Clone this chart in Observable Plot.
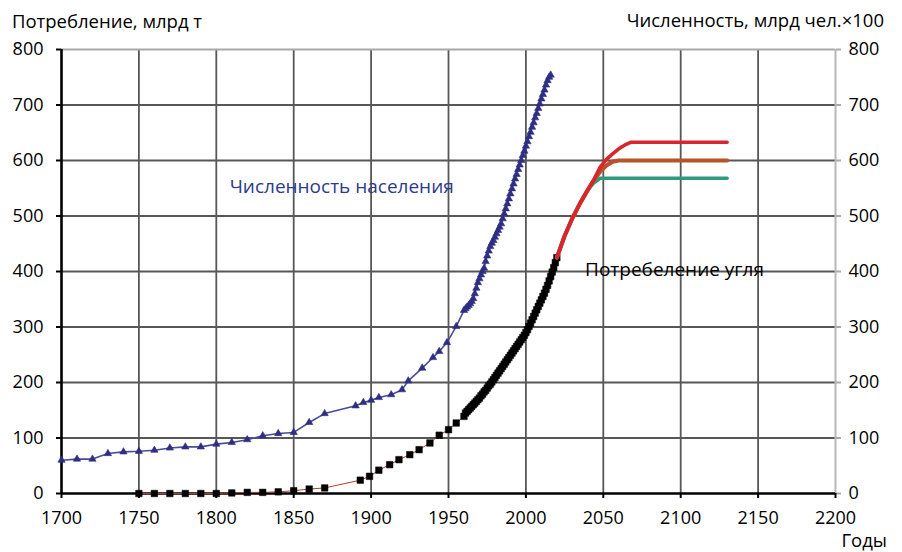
<!DOCTYPE html>
<html>
<head>
<meta charset="utf-8">
<script src="https://cdn.jsdelivr.net/npm/d3@7"></script>
<script src="https://cdn.jsdelivr.net/npm/@observablehq/plot@0.6"></script>
<style>
  html, body { margin: 0; padding: 0; background: #fff; }
  svg { display: block; }
</style>
</head>
<body>
<script>
// ---- Data ----
const xTicks = [1700, 1750, 1800, 1850, 1900, 1950, 2000, 2050, 2100, 2150, 2200];
const yTicks = [0, 100, 200, 300, 400, 500, 600, 700, 800];

// Population (billion people x100)
const popYears = [1700,1710,1720,1730,1740,1750,1760,1770,1780,1790,1800,1810,1820,1830,1840,1850,1860,1870,1890,1895,1900,1905,1913,1920,1924,1933,1940,1944,1949,1955,
  1960,1961,1962,1963,1964,1965,1966,1967,1968,1969,1970,1971,1972,1973,1974,1975,1976,1977,1978,1979,1980,1981,1982,1983,1984,1985,1986,1987,1988,1989,1990,
  1991,1992,1993,1994,1995,1996,1997,1998,1999,2000,2001,2002,2003,2004,2005,2006,2007,2008,2009,2010,2011,2012,2013,2014,2015,2016];
const popValues = [60,62,62,72,75,76,78,82,84,84,89,92,97,104,108,110,128,144,158,164,168,173,178,187,203,226,245,256,272,301,
  330,333,336,339,342,346,351,360,370,380,387,394,400,406,418,428,437,445,451,456,462,468,474,480,486,495,504,513,522,531,540,
  549,558,567,575,584,592,600,609,617,626,634,643,651,660,668,677,685,694,702,711,719,727,736,744,750,754];

// Cumulative coal consumption (billion tonnes), historical
const coalYears = [1750,1760,1770,1780,1790,1800,1810,1820,1830,1840,1850,1860,1870,1893,1899,1905,1912,1918,1925,1931,1938,1944,1950,1955,1960,
  1961,1962,1963,1964,1965,1966,1967,1968,1969,1970,1971,1972,1973,1974,1975,1976,1977,1978,1979,1980,1981,1982,1983,1984,1985,1986,1987,1988,1989,1990,
  1991,1992,1993,1994,1995,1996,1997,1998,1999,2000,2001,2002,2003,2004,2005,2006,2007,2008,2009,2010,2011,2012,2013,2014,2015,2016,2017,2018,2019,2020];
const coalValues = [0,0,0,0,0,0,1,2,2,3,5,8,10,24,31,42,52,61,70,79,91,105,115,127,139,
  145,148,151,154,157,160,163,166,169,172,176,179,183,186,190,194,197,201,205,209,213,217,221,225,229,233,237,241,245,249,
  253,257,261,265,269,273,277,281,285,290,295,301,307,313,319,325,331,337,343,349,355,361,368,375,383,391,399,407,416,425];

// Projections
const greenYears  = [2020,2025,2030,2035,2040,2044,2048,2130];
const greenValues = [425,464,496,523,547,560,568,568];
const brownYears  = [2020,2025,2030,2035,2040,2044,2048,2052,2056,2060,2130];
const brownValues = [425,464,496,523,547,565,580,591,598,600,600];
const redYears    = [2020,2025,2030,2035,2040,2044,2048,2052,2056,2060,2064,2068,2130];
const redValues   = [425,464,496,523,547,566,588,602,612,621,628,633,633];

const seriesLabels = ["Численность населения", "Потребеление угля"];
const titles = ["Потребление, млрд т", "Численность, млрд чел.×100", "Годы"];

const toRows = (xs, ys) => xs.map((x, i) => ({x, y: ys[i]}));
const pop = toRows(popYears, popValues);
const coal = toRows(coalYears, coalValues);
const green = toRows(greenYears, greenValues);
const brown = toRows(brownYears, brownValues);
const red = toRows(redYears, redValues);

const gridX = xTicks.filter(d => d > 1700 && d < 2200);
const gridY = yTicks.filter(d => d > 0 && d < 800);
const FONT = "Open Sans";

const chart = Plot.plot({
  width: 902,
  height: 552,
  marginLeft: 61,
  marginRight: 67,
  marginTop: 49,
  marginBottom: 59,
  style: {fontFamily: FONT, fontSize: "18px", color: "#000", background: "#fff"},
  x: {domain: [1700, 2200]},
  y: {domain: [0, 800]},
  marks: [
    Plot.gridX(gridX, {stroke: "#575757", strokeOpacity: 1, strokeWidth: 1.8}),
    Plot.gridY(gridY, {stroke: "#575757", strokeOpacity: 1, strokeWidth: 1.8}),
    Plot.ruleY([800], {stroke: "#a8a8a8", strokeWidth: 2}),
    Plot.ruleX([2200], {stroke: "#b8b8b8", strokeWidth: 2}),
    Plot.axisY(yTicks, {anchor: "left", tickSize: 5, tickPadding: 13, stroke: "#000", strokeWidth: 2, fill: "#000", fontSize: 18, label: null}),
    Plot.axisY(yTicks, {anchor: "right", tickSize: 5, tickPadding: 8, stroke: "#aaa", strokeWidth: 2, fill: "#000", fontSize: 18, label: null}),
    Plot.axisX(xTicks, {anchor: "bottom", tickSize: 5, tickPadding: 13, stroke: "#000", strokeWidth: 2, fill: "#000", fontSize: 18, label: null, tickFormat: d => String(d)}),
    Plot.ruleX([1700], {stroke: "#000", strokeWidth: 2.6}),
    Plot.ruleY([0], {stroke: "#000", strokeWidth: 2.6}),
    // population
    Plot.line(pop, {x: "x", y: "y", stroke: "#4b4a96", strokeWidth: 1.6}),
    Plot.dot(pop, {x: "x", y: "y", symbol: "triangle", r: 2.7, fill: "#2f2e82", stroke: "#2f2e82", strokeWidth: 0.6}),
    // coal history
    Plot.line(coal, {x: "x", y: "y", stroke: "#a5442c", strokeWidth: 1}),
    Plot.dot(coal, {x: "x", y: "y", symbol: "square", r: 3.7, fill: "#000", stroke: "#000", strokeWidth: 0.5}),
    // projections
    Plot.line(green, {x: "x", y: "y", stroke: "#2e9b7e", strokeWidth: 3.6}),
    Plot.line(brown, {x: "x", y: "y", stroke: "#b5532b", strokeWidth: 4.2}),
    Plot.line(red, {x: "x", y: "y", stroke: "#d8262e", strokeWidth: 3.6}),
    // series labels
    Plot.text([seriesLabels[0]], {x: () => 1881, y: () => 553, text: d => d, fill: "#2c3b8c", fontSize: 19, textAnchor: "middle"}),
    Plot.text([seriesLabels[1]], {x: () => 2096, y: () => 403, text: d => d, fill: "#000", fontSize: 19, textAnchor: "middle"})
  ]
});

document.body.appendChild(chart);
const svg = d3.select(chart);

// white boxes behind the in-chart labels (measured from the text itself)
chart.querySelectorAll("text").forEach(t => {
  if (seriesLabels.includes(t.textContent)) {
    const b = t.getBBox();
    const g = t.parentNode;
    const rect = document.createElementNS("http://www.w3.org/2000/svg", "rect");
    rect.setAttribute("x", b.x - 7);
    rect.setAttribute("y", b.y - 8);
    rect.setAttribute("width", b.width + 14);
    rect.setAttribute("height", b.height + 14);
    rect.setAttribute("fill", "#fff");
    g.parentNode.insertBefore(rect, g);
  }
});

// axis titles
const addTitle = (txt, x, y, anchor, size) =>
  svg.append("text").attr("x", x).attr("y", y).attr("text-anchor", anchor)
    .attr("font-family", FONT).attr("font-size", size).attr("fill", "#000").text(txt);
addTitle(titles[0], 12, 28, "start", 18.5);
addTitle(titles[1], 884, 27, "end", 18.5);
addTitle(titles[2], 887, 547, "end", 18.5);
</script>
</body>
</html>
